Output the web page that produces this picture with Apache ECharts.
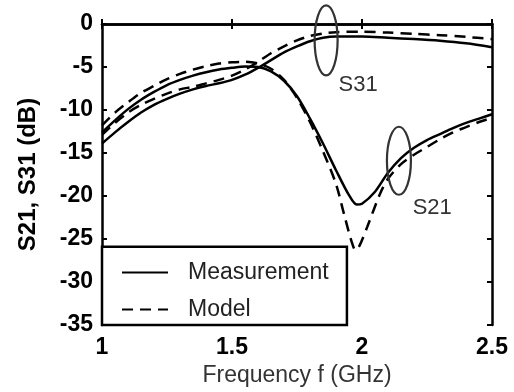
<!DOCTYPE html>
<html>
<head>
<meta charset="utf-8">
<script src="https://cdn.jsdelivr.net/npm/echarts@6/dist/echarts.min.js"></script>
<style>
  html, body { margin: 0; padding: 0; background: #fff; }
  #chart { width: 514px; height: 392px; }
</style>
</head>
<body>
<div id="chart"></div>
<script>
// frequency (GHz) / dB pairs
const s21Meas = [
  [1.0, -12.6], [1.05, -11.2], [1.1, -9.9], [1.15, -8.8], [1.2, -7.9], [1.25, -7.1],
  [1.3, -6.5], [1.35, -6.0], [1.4, -5.6], [1.45, -5.3], [1.5, -5.1], [1.55, -4.95],
  [1.6, -5.0], [1.65, -5.5], [1.7, -6.6], [1.75, -8.4], [1.8, -11.0], [1.85, -13.9],
  [1.9, -17.0], [1.95, -19.9], [1.98, -21.0], [2.0, -20.9], [2.05, -19.5], [2.1, -17.3],
  [2.15, -15.6], [2.2, -14.4], [2.25, -13.5], [2.3, -12.8], [2.35, -12.1], [2.4, -11.5],
  [2.45, -11.0], [2.5, -10.5]
]
const s21Model = [
  [1.0, -11.8], [1.05, -10.3], [1.1, -9.1], [1.15, -8.0], [1.2, -7.2], [1.25, -6.4],
  [1.3, -5.8], [1.35, -5.3], [1.4, -4.9], [1.45, -4.6], [1.5, -4.45], [1.55, -4.4],
  [1.6, -4.6], [1.65, -5.2], [1.7, -6.5], [1.75, -8.6], [1.8, -11.4], [1.85, -14.8],
  [1.9, -18.6], [1.93, -22.0], [1.96, -25.3], [1.975, -26.3], [1.99, -25.8], [2.02, -23.6],
  [2.07, -19.7], [2.1, -18.0], [2.15, -16.3], [2.2, -15.2], [2.25, -14.3], [2.3, -13.4],
  [2.35, -12.6], [2.4, -12.0], [2.45, -11.4], [2.5, -10.9]
]
const s31Meas = [
  [1.0, -13.9], [1.05, -12.6], [1.1, -11.4], [1.15, -10.3], [1.2, -9.4], [1.25, -8.7],
  [1.3, -8.1], [1.35, -7.6], [1.4, -7.2], [1.45, -6.9], [1.5, -6.5], [1.55, -5.9],
  [1.6, -5.1], [1.65, -4.2], [1.7, -3.3], [1.75, -2.6], [1.8, -2.0], [1.85, -1.6],
  [1.9, -1.45], [2.0, -1.45], [2.1, -1.6], [2.2, -1.75], [2.3, -1.95], [2.4, -2.25],
  [2.5, -2.7]
]
const s31Model = [
  [1.0, -12.9], [1.05, -11.5], [1.1, -10.3], [1.15, -9.4], [1.2, -8.7], [1.25, -8.1],
  [1.3, -7.6], [1.35, -7.3], [1.4, -6.9], [1.45, -6.5], [1.5, -6.0], [1.55, -5.3],
  [1.6, -4.4], [1.65, -3.4], [1.7, -2.6], [1.75, -1.9], [1.8, -1.4], [1.85, -1.1],
  [1.9, -0.95], [2.0, -0.9], [2.1, -1.0], [2.2, -1.15], [2.3, -1.3], [2.4, -1.5],
  [2.5, -1.75]
]
const legendNames = ['Measurement', 'Model']
// annotation ellipses: [freq, dB] centre, label position
const marks = [
  { name: 'S31', center: [1.862, -1.9], rx: 11.5, ry: 35, label: [1.985, -7.1] },
  { name: 'S21', center: [2.142, -15.9], rx: 12, ry: 34, label: [2.27, -21.4] },
]
const legendBox = [[1.0, -25.9], [1.942, -35]]

const FONT = '"Liberation Sans", Arial, sans-serif'
const el = document.getElementById('chart')
const chart = echarts.init(el, null, { renderer: 'canvas' })

const solid = { color: '#000', width: 2.5, type: 'solid' }
const dashed = { color: '#000', width: 2.5, type: [11, 7] }
const lineSeries = (name, data, lineStyle) => ({
  type: 'line', name, data, lineStyle, smooth: 0.3, symbol: 'none',
  itemStyle: { color: '#000' }, z: 3,
})

const axisCommon = {
  axisLine: { show: true, lineStyle: { color: '#000', width: 2.5 } },
  axisTick: { show: true, inside: true, length: 5, lineStyle: { color: '#000', width: 2 } },
  splitLine: { show: false },
}

chart.setOption({
  animation: false,
  grid: { left: 102, right: 22, top: 24, bottom: 67 },
  xAxis: [
    {
      ...axisCommon, type: 'value', min: 1, max: 2.5, interval: 0.5,
      name: 'Frequency f (GHz)', nameLocation: 'middle', nameGap: 37,
      nameTextStyle: { fontFamily: FONT, fontSize: 23, color: '#333' },
      axisLabel: { fontFamily: FONT, fontSize: 23, fontWeight: 'bold', color: '#000', margin: 11 },
    },
    {
      ...axisCommon, type: 'value', min: 1, max: 2.5, interval: 0.5, position: 'top',
      axisLabel: { show: false },
    },
  ],
  yAxis: [
    {
      ...axisCommon, type: 'value', min: -35, max: 0, interval: 5,
      name: 'S21, S31 (dB)', nameLocation: 'middle', nameGap: 62,
      nameTextStyle: { fontFamily: FONT, fontSize: 24, fontWeight: 'bold', color: '#000' },
      axisLabel: { fontFamily: FONT, fontSize: 23, fontWeight: 'bold', color: '#000', margin: 9 },
    },
    {
      ...axisCommon, type: 'value', min: -35, max: 0, interval: 5, position: 'right',
      axisLabel: { show: false },
    },
  ],
  legend: {
    data: legendNames, orient: 'vertical', left: 116, top: 256,
    itemWidth: 46, itemHeight: 14, itemGap: 14,
    itemStyle: { opacity: 0, borderWidth: 0 },
    textStyle: { fontFamily: FONT, fontSize: 23, lineHeight: 23, color: '#222', padding: [0, 0, 0, 15] },
    z: 10,
  },
  series: [
    lineSeries('Measurement', s21Meas, solid),
    lineSeries('Model', s21Model, dashed),
    lineSeries('Measurement', s31Meas, solid),
    lineSeries('Model', s31Model, dashed),
  ],
})

// annotations placed through the axis scales
const px = (p) => chart.convertToPixel({ xAxisIndex: 0, yAxisIndex: 0 }, p)
const b0 = px(legendBox[0])
const b1 = px(legendBox[1])
const graphics = [
  {
    type: 'rect', z: 5,
    shape: { x: b0[0], y: b0[1], width: b1[0] - b0[0], height: b1[1] - b0[1] },
    style: { fill: '#fff', stroke: '#000', lineWidth: 2.5 },
  },
]
marks.forEach((m) => {
  const c = px(m.center)
  const l = px(m.label)
  graphics.push({
    type: 'ellipse', z: 6,
    shape: { cx: c[0], cy: c[1], rx: m.rx, ry: m.ry },
    style: { fill: 'none', stroke: '#333', lineWidth: 2.2 },
  })
  graphics.push({
    type: 'text', z: 6, x: l[0], y: l[1],
    style: { text: m.name, font: '22px ' + FONT, fill: '#333', align: 'center', verticalAlign: 'middle' },
  })
})
chart.setOption({ graphic: graphics })
</script>
</body>
</html>
